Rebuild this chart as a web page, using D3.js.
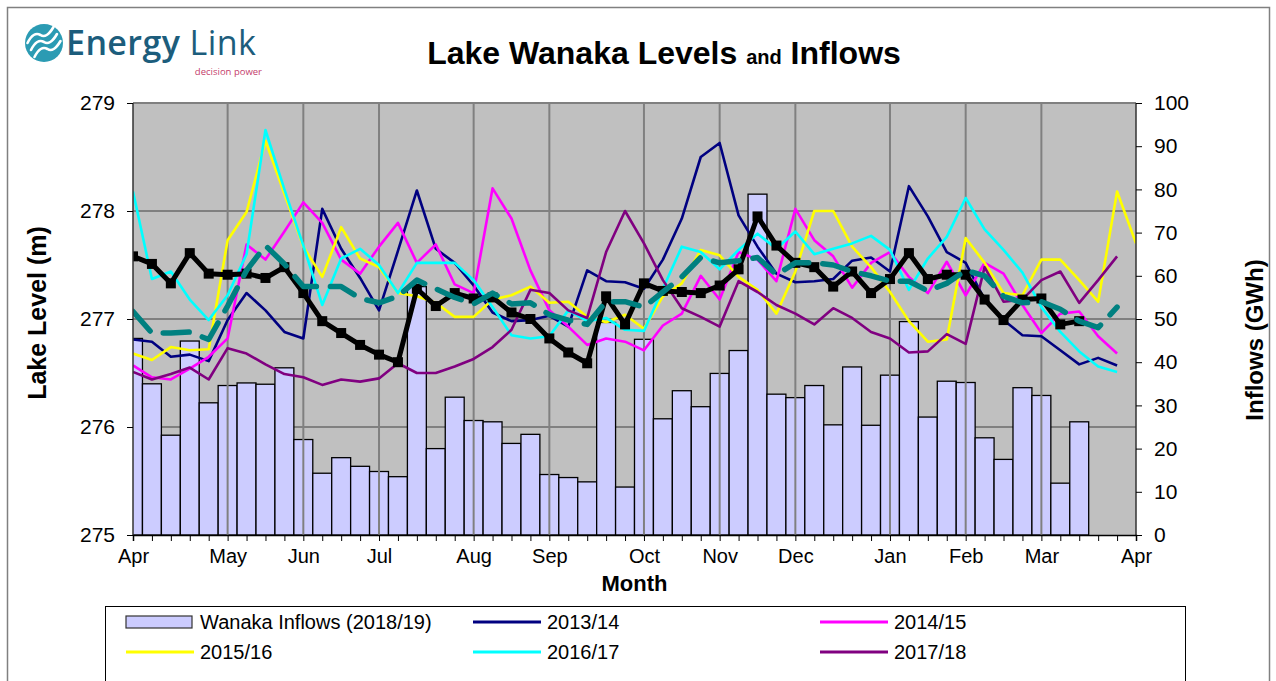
<!DOCTYPE html>
<html>
<head>
<meta charset="utf-8">
<script src="https://cdn.jsdelivr.net/npm/d3@7"></script>
<style>
  body { margin: 0; background: #fff; }
  svg { display: block; font-family: Arial, "Liberation Sans", sans-serif; }
</style>
</head>
<body>
<script>
'use strict';

// weekly positions, Apr to Apr
const monthLabels = ["Apr", "May", "Jun", "Jul", "Aug", "Sep", "Oct", "Nov", "Dec", "Jan", "Feb", "Mar", "Apr"];
const monthWeeks = [0, 5, 9, 13, 18, 22, 27, 31, 35, 40, 44, 48, 53];

// Wanaka inflows 2018/19 (GWh)
const inflows = [45.5, 35.0, 23.1, 44.9, 30.6, 34.6, 35.2, 34.9, 38.7, 22.1, 14.3, 17.9, 15.9, 14.7, 13.5,
  57.5, 20.0, 31.9, 26.5, 26.2, 21.2, 23.3, 14.0, 13.3, 12.3, 49.2, 11.1, 45.3, 26.9, 33.4, 29.7, 37.4,
  42.7, 78.9, 32.6, 31.8, 34.6, 25.5, 38.9, 25.4, 37.0, 49.4, 27.3, 35.6, 35.3, 22.5, 17.5, 34.1, 32.3,
  12.0, 26.2];

// lake levels (m)
const level1314 = [276.81, 276.79, 276.65, 276.67, 276.61, 276.99, 277.24, 277.08, 276.88, 276.82, 278.02,
  277.65, 277.38, 277.08, 277.63, 278.19, 277.65, 277.52, 277.31, 277.06, 276.98, 276.99, 277.03, 276.93,
  277.45, 277.35, 277.34, 277.28, 277.55, 277.93, 278.50, 278.63, 277.96, 277.67, 277.42, 277.34, 277.35,
  277.37, 277.54, 277.57, 277.44, 278.23, 277.95, 277.62, 277.52, 277.18, 276.99, 276.85, 276.84, 276.71,
  276.58, 276.64, 276.57];
const level1415 = [276.57, 276.46, 276.44, 276.54, 276.65, 276.82, 277.69, 277.55, 277.81, 278.08, 277.89,
  277.55, 277.42, 277.67, 277.89, 277.52, 277.69, 277.32, 277.24, 278.21, 277.93, 277.45, 277.08, 276.93,
  276.76, 276.82, 276.79, 276.71, 276.94, 277.05, 277.40, 277.18, 277.62, 277.55, 277.35, 278.02, 277.73,
  277.58, 277.29, 277.52, 277.62, 277.39, 277.24, 277.53, 277.22, 277.52, 277.42, 277.13, 276.87, 277.05,
  277.07, 276.84, 276.68];
const level1516 = [276.68, 276.62, 276.74, 276.71, 276.72, 277.73, 277.99, 278.65, 278.16, 277.67, 277.39,
  277.85, 277.56, 277.48, 277.24, 277.21, 277.15, 277.02, 277.02, 277.18, 277.22, 277.30, 277.15, 277.16,
  277.02, 276.97, 277.04, 276.91, 277.21, 277.33, 277.64, 277.59, 277.39, 277.27, 277.05, 277.44, 278.00,
  278.00, 277.67, 277.48, 277.25, 276.98, 276.79, 276.81, 277.75, 277.52, 277.24, 277.22, 277.55, 277.55,
  277.36, 277.16, 278.18, 277.70];
const level1617 = [278.18, 277.37, 277.44, 277.18, 276.99, 277.22, 277.60, 278.75, 278.20, 277.68, 277.13,
  277.56, 277.65, 277.50, 277.24, 277.52, 277.52, 277.52, 277.36, 277.11, 276.85, 276.82, 276.84, 277.08,
  276.98, 277.01, 276.90, 276.89, 277.28, 277.67, 277.62, 277.46, 277.64, 277.79, 277.65, 277.81, 277.60,
  277.65, 277.70, 277.77, 277.64, 277.27, 277.56, 277.76, 278.12, 277.83, 277.64, 277.43, 277.11, 276.88,
  276.70, 276.56, 276.51];
const level1718 = [276.51, 276.44, 276.49, 276.55, 276.44, 276.73, 276.68, 276.58, 276.49, 276.46, 276.39,
  276.44, 276.42, 276.45, 276.59, 276.50, 276.50, 276.56, 276.63, 276.74, 276.90, 277.27, 277.24, 277.08,
  277.01, 277.62, 278.00, 277.70, 277.36, 277.10, 277.02, 276.93, 277.35, 277.25, 277.13, 277.05, 276.95,
  277.10, 277.01, 276.88, 276.82, 276.69, 276.70, 276.86, 276.77, 277.48, 277.16, 277.18, 277.36, 277.44,
  277.15, 277.36, 277.58];
const level1819 = [277.58, 277.51, 277.33, 277.61, 277.42, 277.41, 277.42, 277.38, 277.48, 277.24, 276.98,
  276.87, 276.76, 276.67, 276.60, 277.28, 277.12, 277.24, 277.19, 277.20, 277.06, 277.00, 276.82, 276.69,
  276.59, 277.21, 276.95, 277.33, 277.26, 277.25, 277.24, 277.31, 277.46, 277.95, 277.68, 277.52, 277.48,
  277.30, 277.44, 277.24, 277.37, 277.61, 277.37, 277.41, 277.41, 277.18, 276.99, 277.18, 277.19, 276.95,
  276.98];
const levelAvg = [277.07, 276.87, 276.87, 276.88, 276.81, 277.12, 277.45, 277.68, 277.51, 277.30, 277.30,
  277.30, 277.19, 277.15, 277.21, 277.36, 277.28, 277.20, 277.14, 277.24, 277.14, 277.15, 277.04, 276.99,
  276.95, 277.16, 277.16, 277.11, 277.25, 277.39, 277.57, 277.52, 277.54, 277.57, 277.41, 277.52, 277.52,
  277.50, 277.44, 277.40, 277.35, 277.35, 277.26, 277.33, 277.45, 277.40, 277.21, 277.15, 277.16, 277.09,
  276.98, 276.92, 277.11];

const yearNames = ["2013/14", "2014/15", "2015/16", "2016/17", "2017/18"];
const yearColors = ["#000080", "#ff00ff", "#ffff00", "#00ffff", "#800080"];
const yearLevels = [level1314, level1415, level1516, level1617, level1718];

(function() {

  const W = 1276, H = 681;
  const left = 133, right = 1136, top = 103, bottom = 535;

  const svg = d3.select('body').append('svg')
    .attr('width', W)
    .attr('height', H);

  svg.append('rect').attr('width', W).attr('height', H).attr('fill', '#fff');

  // outer chart border
  svg.append('rect')
    .attr('x', 7.5).attr('y', 7.5)
    .attr('width', 1262).attr('height', 700)
    .attr('fill', 'none')
    .attr('stroke', '#808080')
    .attr('stroke-width', 1.5);

  const x = d3.scaleLinear().domain([0, 53]).range([left, right]);
  const yL = d3.scaleLinear().domain([275, 279]).range([bottom, top]);
  const yR = d3.scaleLinear().domain([0, 100]).range([bottom, top]);
  const step = x(1) - x(0);

  svg.append('clipPath').attr('id', 'plotclip')
    .append('rect')
    .attr('x', left).attr('y', top)
    .attr('width', right - left).attr('height', bottom - top);

  // plot background
  svg.append('rect')
    .attr('x', left).attr('y', top)
    .attr('width', right - left).attr('height', bottom - top)
    .attr('fill', '#c0c0c0');

  // horizontal gridlines (behind bars)
  svg.append('g').selectAll('line')
    .data([276, 277, 278, 279])
    .enter().append('line')
    .attr('x1', left).attr('x2', right)
    .attr('y1', d => yL(d)).attr('y2', d => yL(d))
    .attr('stroke', '#808080')
    .attr('stroke-width', 2);

  // inflow bars
  svg.append('g')
    .attr('clip-path', 'url(#plotclip)')
    .selectAll('rect')
    .data(inflows)
    .enter().append('rect')
    .attr('x', (d, i) => x(i) - step / 2)
    .attr('y', d => yR(d))
    .attr('width', step)
    .attr('height', d => yR(0) - yR(d))
    .attr('fill', '#ccccff')
    .attr('stroke', '#000')
    .attr('stroke-width', 1.3);

  // vertical gridlines at month starts
  svg.append('g').selectAll('line')
    .data(monthWeeks.slice(1, -1))
    .enter().append('line')
    .attr('x1', d => x(d)).attr('x2', d => x(d))
    .attr('y1', top).attr('y2', bottom)
    .attr('stroke', '#808080')
    .attr('stroke-width', 2);

  const line = d3.line()
    .x((d, i) => x(i))
    .y(d => yL(d));

  const lines = svg.append('g').attr('clip-path', 'url(#plotclip)');

  // previous years
  yearLevels.forEach((vals, k) => {
    lines.append('path')
      .datum(vals)
      .attr('d', line)
      .attr('fill', 'none')
      .attr('stroke', yearColors[k])
      .attr('stroke-width', 2.6)
      .attr('stroke-linejoin', 'round');
  });

  // 2018/19 level with square markers
  lines.append('path')
    .datum(level1819)
    .attr('d', line)
    .attr('fill', 'none')
    .attr('stroke', '#000')
    .attr('stroke-width', 5)
    .attr('stroke-linejoin', 'round');

  lines.selectAll('.mark')
    .data(level1819)
    .enter().append('rect')
    .attr('class', 'mark')
    .attr('x', (d, i) => x(i) - 5)
    .attr('y', d => yL(d) - 5)
    .attr('width', 10)
    .attr('height', 10)
    .attr('fill', '#000');

  // average level, thick dashed teal
  lines.append('path')
    .datum(levelAvg)
    .attr('d', line)
    .attr('fill', 'none')
    .attr('stroke', '#008080')
    .attr('stroke-width', 5.5)
    .attr('stroke-linecap', 'round')
    .attr('stroke-linejoin', 'round')
    .attr('stroke-dasharray', '26,14');

  // plot frame
  svg.append('line')
    .attr('x1', left).attr('x2', left).attr('y1', top).attr('y2', bottom)
    .attr('stroke', '#333').attr('stroke-width', 1.5);
  svg.append('line')
    .attr('x1', right).attr('x2', right).attr('y1', top).attr('y2', bottom)
    .attr('stroke', '#333').attr('stroke-width', 1.5);

  // axes
  const xMinor = d3.axisBottom(x)
    .tickValues(d3.range(54))
    .tickSize(6)
    .tickFormat('');
  svg.append('g')
    .attr('transform', `translate(0,${bottom})`)
    .call(xMinor)
    .call(g => g.select('.domain').attr('stroke', '#000').attr('stroke-width', 1.5));

  const xMonths = d3.axisBottom(x)
    .tickValues(monthWeeks)
    .tickSize(0)
    .tickPadding(14)
    .tickFormat((d, i) => monthLabels[i]);
  svg.append('g')
    .attr('transform', `translate(0,${bottom})`)
    .call(xMonths)
    .call(g => g.select('.domain').remove())
    .selectAll('text')
    .attr('font-size', 20)
    .attr('font-family', 'Arial, "Liberation Sans", sans-serif')
    .attr('fill', '#000');

  const yLeftAxis = d3.axisLeft(yL)
    .tickValues([275, 276, 277, 278, 279])
    .tickFormat(d3.format('d'))
    .tickSize(6)
    .tickPadding(12);
  svg.append('g')
    .attr('transform', `translate(${left},0)`)
    .call(yLeftAxis)
    .call(g => g.select('.domain').remove())
    .selectAll('text')
    .attr('font-size', 21)
    .attr('font-family', 'Arial, "Liberation Sans", sans-serif')
    .attr('fill', '#000');

  const yRightAxis = d3.axisRight(yR).tickValues(d3.range(0, 101, 10)).tickSize(6).tickPadding(12);
  svg.append('g')
    .attr('transform', `translate(${right},0)`)
    .call(yRightAxis)
    .call(g => g.select('.domain').remove())
    .selectAll('text')
    .attr('font-size', 21)
    .attr('font-family', 'Arial, "Liberation Sans", sans-serif')
    .attr('fill', '#000');

  // axis titles
  svg.append('text')
    .attr('x', (left + right) / 2)
    .attr('y', 591)
    .attr('text-anchor', 'middle')
    .attr('font-size', 22)
    .attr('font-weight', 'bold')
    .text('Month');

  svg.append('text')
    .attr('transform', 'translate(46,313)rotate(-90)')
    .attr('text-anchor', 'middle')
    .attr('font-size', 25)
    .attr('font-weight', 'bold')
    .text('Lake Level (m)');

  svg.append('text')
    .attr('transform', 'translate(1263,340)rotate(-90)')
    .attr('text-anchor', 'middle')
    .attr('font-size', 24)
    .attr('font-weight', 'bold')
    .text('Inflows (GWh)');

  // title
  const title = svg.append('text')
    .attr('x', 664)
    .attr('y', 64)
    .attr('text-anchor', 'middle')
    .attr('font-weight', 'bold')
    .attr('font-size', 32);
  title.append('tspan').text('Lake Wanaka Levels ');
  title.append('tspan').attr('font-size', 20).text('and');
  title.append('tspan').text(' Inflows');

  // logo
  const logo = svg.append('g');
  logo.append('circle').attr('cx', 44).attr('cy', 43).attr('r', 19).attr('fill', '#2b9bb3');
  [-7, 0, 7].forEach(off => {
    logo.append('path')
      .attr('d', `M${31 + off / 2},${50 + off} q6,-12 13,-8 q6,4 13,-8`)
      .attr('fill', 'none')
      .attr('stroke', '#fff')
      .attr('stroke-width', 2.6)
      .attr('stroke-linecap', 'round');
  });
  const brand = logo.append('text')
    .attr('x', 66).attr('y', 55)
    .attr('font-family', '"Open Sans", "DejaVu Sans", sans-serif')
    .attr('font-size', 34)
    .attr('letter-spacing', 0.4)
    .attr('fill', '#1c5d7c');
  brand.append('tspan').attr('font-weight', 600).text('Energy');
  brand.append('tspan').attr('font-weight', 400).text(' Link');
  logo.append('text')
    .attr('x', 262).attr('y', 75)
    .attr('text-anchor', 'end')
    .attr('font-family', '"Open Sans", sans-serif')
    .attr('font-size', 9.5)
    .attr('fill', '#c4406c')
    .text('decision power');

  // legend
  const legend = svg.append('g');
  legend.append('rect')
    .attr('x', 105.5).attr('y', 606.5)
    .attr('width', 1080).attr('height', 100)
    .attr('fill', '#fff')
    .attr('stroke', '#000')
    .attr('stroke-width', 1);

  const legendItems = [{ name: 'Wanaka Inflows (2018/19)', bar: true }]
    .concat(yearNames.map((n, k) => ({ name: n, color: yearColors[k] })));
  const colX = [126, 473, 820];
  const rowY = [622, 652];

  legendItems.forEach((item, k) => {
    const cx = colX[k % 3], cy = rowY[Math.floor(k / 3)];
    if (item.bar) {
      legend.append('rect')
        .attr('x', cx).attr('y', cy - 6)
        .attr('width', 66).attr('height', 12)
        .attr('fill', '#ccccff')
        .attr('stroke', '#333')
        .attr('stroke-width', 1.2);
    } else {
      legend.append('line')
        .attr('x1', cx).attr('x2', cx + 68)
        .attr('y1', cy).attr('y2', cy)
        .attr('stroke', item.color)
        .attr('stroke-width', 3);
    }
    legend.append('text')
      .attr('x', cx + 74).attr('y', cy + 7)
      .attr('font-size', 20)
      .text(item.name);
  });

})();
</script>
</body>
</html>
